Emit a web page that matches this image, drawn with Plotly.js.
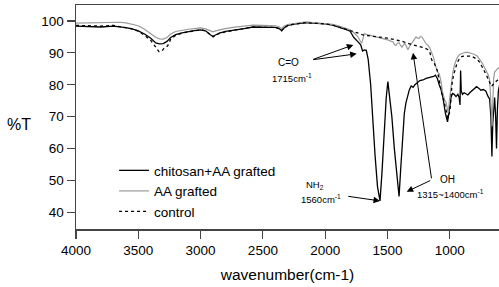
<!DOCTYPE html>
<html>
<head>
<meta charset="utf-8">
<script src="https://cdn.plot.ly/plotly-3.0.1.min.js"></script>
<style>html,body{margin:0;padding:0;background:#fff;}#chart{width:499px;height:287px;}</style>
</head>
<body>
<div id="chart"></div>
<script>
// chitosan+AA grafted
const wnChitosan = [4000,3900,3800,3700,3650,3600,3550,3500,3450,3400,3360,3330,3300,3270,3240,3200,3150,3100,3050,3000,2960,2920,2900,2880,2850,2800,2740,2650,2580,2500,2400,2370,2350,2330,2300,2250,2200,2150,2100,2040,2000,1940,1880,1830,1800,1770,1740,1715,1700,1685,1670,1655,1635,1620,1600,1580,1560,1545,1525,1510,1497,1488,1478,1465,1445,1425,1407,1395,1380,1365,1352,1340,1325,1310,1295,1280,1260,1240,1215,1190,1160,1130,1115,1100,1085,1070,1055,1045,1035,1025,1018,1010,1000,990,978,965,950,935,925,918,913,908,898,885,870,855,840,820,800,785,770,750,730,710,695,680,670,662,655,648,640,632,625,618,610,600];
const tChitosan = [98.4,98.3,98.1,98.4,98.2,97.9,97.5,96.9,95.9,94.6,93.1,92.8,92.9,93.6,94.8,95.7,96.3,96.7,97.0,97.2,96.9,95.6,95.2,95.6,96.2,96.7,97.0,97.6,98.1,98.0,98.0,97.6,97.0,97.8,98.6,99.0,99.3,99.5,99.3,99.2,99.1,98.7,98.0,97.3,96.8,94.8,93.6,92.5,90.6,90.9,90.8,88.0,80,70,58,48,43.6,52,66,76,81,78,75,70,60,51,45,53,64,71,74.3,76,78.4,79.6,79.2,80,80.8,81.3,81.5,82,82.3,82.6,83,82,80,78.5,76,73,71,69.5,68.4,70.5,73,76,77.3,77,76.3,77,76,73.7,84.5,78,77,77.5,77.2,76.8,77.5,78.2,79,79.4,79,78.3,78.5,78,76.5,75.5,70,57.5,68,74,76,70,60,72,78,80];

// AA grafted
const wnAA = [4000,3900,3800,3700,3650,3600,3550,3500,3450,3400,3360,3330,3300,3270,3240,3200,3150,3100,3050,3000,2960,2920,2900,2880,2850,2800,2740,2650,2580,2500,2400,2370,2350,2330,2300,2250,2200,2150,2100,2040,2000,1940,1880,1830,1800,1770,1740,1720,1707,1695,1685,1670,1640,1600,1560,1520,1490,1470,1456,1444,1432,1420,1408,1396,1384,1372,1360,1348,1336,1320,1304,1285,1271,1259,1247,1235,1220,1205,1190,1175,1160,1145,1130,1115,1100,1085,1070,1060,1050,1040,1030,1020,1012,1003,995,985,975,960,940,920,900,880,860,840,820,800,780,760,740,720,700,690,680,672,665,660,655,648,640,630,620,610,600];
const tAA = [99.3,99.4,99.5,99.6,99.6,99.4,99.0,98.5,97.4,96.1,94.9,94.4,94.3,94.8,95.9,96.7,97.1,97.4,97.6,97.8,97.5,96.9,96.6,96.9,97.2,97.6,98.0,98.4,98.7,98.6,98.5,98.2,97.6,98.4,98.9,99.2,99.5,99.7,99.5,99.3,99.2,98.9,98.3,97.5,97.2,96.3,95.2,93.8,93.0,94.8,96.0,95.8,95.5,95.2,94.8,94.4,94.0,93.6,93.5,92.6,92.3,93.0,93.2,92.4,91.8,92.5,93.0,92.0,91.0,92.2,93.0,94.2,95.0,94.6,94.5,95.2,94.8,93.8,92.8,92.4,91.5,90.0,88.5,86.0,84.0,83.5,81.0,78.0,76.0,75.0,74.5,72.5,71.0,75.0,78.0,81.5,84.0,86.5,88.5,89.5,89.9,90.1,90.2,90.0,89.8,89.5,89.0,88.0,86.8,85.3,83.8,83.0,81.5,76,68,67,74,82,84,84.5,85,85.3,85.3];

// control
const wnControl = [4000,3900,3800,3700,3650,3600,3550,3500,3450,3400,3370,3350,3334,3312,3294,3264,3240,3200,3150,3100,3050,3000,2960,2920,2900,2880,2850,2800,2740,2650,2580,2500,2400,2370,2350,2330,2300,2250,2200,2150,2100,2040,2000,1940,1880,1830,1800,1760,1720,1697,1650,1600,1560,1500,1450,1426,1380,1340,1296,1260,1239,1200,1175,1159,1145,1125,1100,1090,1078,1066,1054,1042,1030,1022,1015,1008,998,990,983,970,958,940,918,900,878,858,838,818,798,780,759,740,719,700,694,678,665,654,640,630,615,600];
const tControl = [98.6,98.5,98.4,98.6,98.3,98.0,97.5,96.8,95.5,93.9,92.3,91.2,90.4,90.5,91.4,92.2,94.3,95.5,96.2,96.6,97.0,97.2,96.9,95.5,95.0,95.5,96.1,96.6,97.0,97.6,98.1,98.0,98.0,97.6,96.9,97.8,98.6,99.0,99.3,99.5,99.3,99.2,99.1,98.7,98.0,97.3,97.0,96.5,96.0,95.6,95.4,95.2,95.0,94.6,94.2,94.0,93.6,93.0,92.5,92.2,92.0,91.5,91.0,90.0,87.8,86.8,84.5,82.0,79.0,77.5,76.0,74.0,72.0,70.5,69.6,70.5,72.0,76.0,80.0,83.0,85.0,87.0,88.5,88.9,89.0,89.1,89.0,88.8,88.5,88.0,87.0,85.7,84.0,82.5,82.0,80.5,79.5,80.0,80.8,81.0,81.5,82.0];

const seriesNames = ['chitosan+AA grafted', 'AA grafted', 'control'];
const xTicks = [4000,3500,3000,2500,2000,1500,1000];
const yTicks = [40,50,60,70,80,90,100];

const font = 'Liberation Sans, Arial, sans-serif';

const traces = [
  {x: wnChitosan, y: tChitosan, name: seriesNames[0], type: 'scatter', mode: 'lines',
   line: {color: '#000000', width: 1.3}},
  {x: wnAA, y: tAA, name: seriesNames[1], type: 'scatter', mode: 'lines',
   line: {color: '#9a9a9a', width: 1.2}},
  {x: wnControl, y: tControl, name: seriesNames[2], type: 'scatter', mode: 'lines',
   line: {color: '#000000', width: 1.3, dash: 'dot'}}
];

const ann = (x, y, text, size) => ({x, y, xref: 'x', yref: 'y', text, showarrow: false,
  font: {family: font, size: size || 9.5, color: '#000'}, xanchor: 'center', yanchor: 'middle'});
const arrow = (x, y, ax, ay) => ({x, y, ax, ay, xref: 'x', yref: 'y', axref: 'x', ayref: 'y',
  text: '', showarrow: true, arrowhead: 2, arrowsize: 1.3, arrowwidth: 1, arrowcolor: '#000'});

const layout = {
  width: 499, height: 287,
  margin: {l: 76, r: 0, t: 5, b: 58},
  paper_bgcolor: '#fff', plot_bgcolor: '#fff',
  font: {family: font, color: '#000'},
  showlegend: true,
  legend: {x: 0.09, y: 0.33, xanchor: 'left', yanchor: 'top', bgcolor: 'rgba(0,0,0,0)',
    font: {family: font, size: 13.5, color: '#000'}, tracegroupgap: 0, itemwidth: 30},
  xaxis: {
    range: [4000, 605], tickvals: xTicks, ticktext: xTicks.map(String),
    showgrid: false, zeroline: false, showline: true, mirror: true,
    linecolor: '#444', linewidth: 1.5, ticks: 'outside', ticklen: 8, tickwidth: 1.2, tickcolor: '#444',
    tickfont: {family: font, size: 13.5, color: '#000'},
    title: {text: 'wavenumber(cm-1)', font: {family: font, size: 15.5, color: '#000'}, standoff: 12}
  },
  yaxis: {
    range: [34.8, 105], tickvals: yTicks, ticktext: yTicks.map(String),
    showgrid: false, zeroline: false, showline: true, mirror: false,
    linecolor: '#444', linewidth: 1.5, ticks: 'outside', ticklen: 8, tickwidth: 1.2, tickcolor: '#444',
    tickfont: {family: font, size: 13.5, color: '#000'}
  },
  annotations: [
    {x: -0.135, y: 0.465, xref: 'paper', yref: 'paper', text: '%T', showarrow: false,
     font: {family: font, size: 16, color: '#000'}, xanchor: 'center', yanchor: 'middle'},
    ann(2291, 87.1, 'C=O', 10),
    ann(2267, 82.1, '1715cm<sup>-1</sup>', 9.5),
    arrow(1774, 92.5, 2108, 87.8),
    arrow(1747, 89.7, 2108, 87.8),
    ann(2082, 48.6, 'NH<sub>2</sub>', 9.5),
    ann(2034, 44.2, '1560cm<sup>-1</sup>', 9.5),
    arrow(1560, 43.6, 1827, 45.1),
    ann(1022, 50.2, 'OH', 10),
    ann(998, 45.8, '1315~1400cm<sup>-1</sup>', 9.5),
    arrow(1346, 46.5, 1145, 50.2),
    arrow(1295, 90, 1145, 50.2)
  ]
};

Plotly.newPlot('chart', traces, layout, {displayModeBar: false, staticPlot: true});
</script>
</body>
</html>
